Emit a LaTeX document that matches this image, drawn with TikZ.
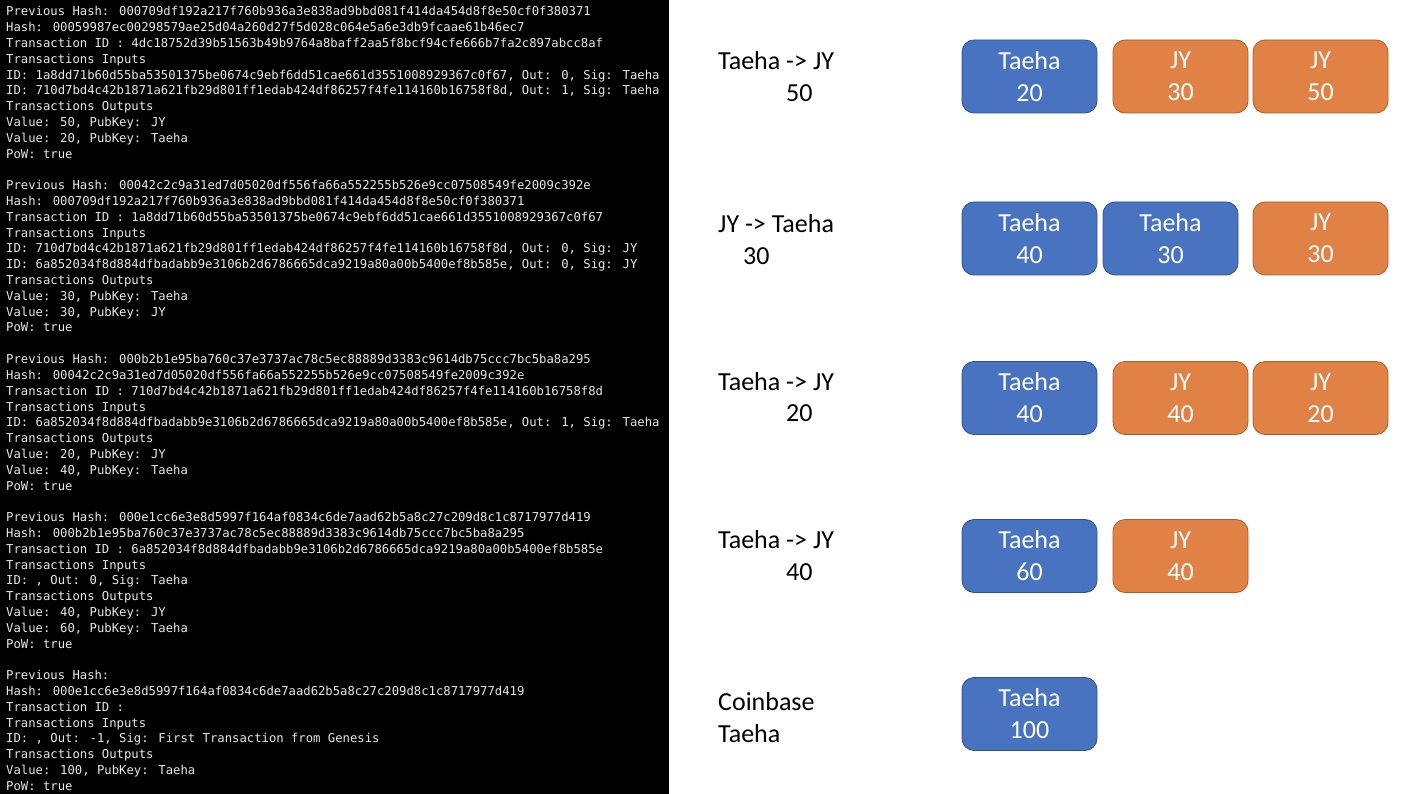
\documentclass[tikz,border=0pt]{standalone}
\usepackage{fontspec}
\setmainfont{Carlito}
\newfontfamily\termfont{DejaVu Sans Mono}
\definecolor{termtext}{RGB}{232,232,232}
\definecolor{tfill}{RGB}{72,115,192}
\definecolor{tline}{RGB}{47,82,143}
\definecolor{jfill}{RGB}{224,129,70}
\definecolor{jline}{RGB}{174,94,40}
\tikzset{
  term/.style={anchor=base west, inner sep=0pt, text=termtext, font=\termfont\fontsize{12.24}{15.8}\selectfont},
  coin/.style={draw, rounded corners=12pt, minimum width=135pt, minimum height=73pt, align=center, text=white, font=\fontsize{26}{32}\selectfont, inner sep=0pt, line width=0.8pt},
  tbox/.style={coin, draw=tline, fill=tfill},
  jbox/.style={coin, draw=jline, fill=jfill},
  lbl/.style={anchor=base west, inner sep=0pt, text=black, font=\fontsize{26}{32}\selectfont}
}
\begin{document}
\begin{tikzpicture}[x=1pt,y=-1pt]
\useasboundingbox (0,0) rectangle (1406,794);
\fill[black] (0,0) rectangle (669,794);
% block 1
\foreach \t [count=\i from 0] in {
 {Previous Hash: 000709df192a217f760b936a3e838ad9bbd081f414da454d8f8e50cf0f380371},
 {Hash: 00059987ec00298579ae25d04a260d27f5d028c064e5a6e3db9fcaae61b46ec7},
 {Transaction ID : 4dc18752d39b51563b49b9764a8baff2aa5f8bcf94cfe666b7fa2c897abcc8af},
 {Transactions Inputs},
 {ID: 1a8dd71b60d55ba53501375be0674c9ebf6dd51cae661d3551008929367c0f67, Out: 0, Sig: Taeha},
 {ID: 710d7bd4c42b1871a621fb29d801ff1edab424df86257f4fe114160b16758f8d, Out: 1, Sig: Taeha},
 {Transactions Outputs},
 {Value: 50, PubKey: JY},
 {Value: 20, PubKey: Taeha},
 {PoW: true}}
 \node[term] (a\i) at (6, 16+15.8*\i) {\t};
% block 2
\foreach \t [count=\i from 0] in {
 {Previous Hash: 00042c2c9a31ed7d05020df556fa66a552255b526e9cc07508549fe2009c392e},
 {Hash: 000709df192a217f760b936a3e838ad9bbd081f414da454d8f8e50cf0f380371},
 {Transaction ID : 1a8dd71b60d55ba53501375be0674c9ebf6dd51cae661d3551008929367c0f67},
 {Transactions Inputs},
 {ID: 710d7bd4c42b1871a621fb29d801ff1edab424df86257f4fe114160b16758f8d, Out: 0, Sig: JY},
 {ID: 6a852034f8d884dfbadabb9e3106b2d6786665dca9219a80a00b5400ef8b585e, Out: 0, Sig: JY},
 {Transactions Outputs},
 {Value: 30, PubKey: Taeha},
 {Value: 30, PubKey: JY},
 {PoW: true}}
 \node[term] (b\i) at (6, 16+15.8*11+15.8*\i) {\t};
% block 3
\foreach \t [count=\i from 0] in {
 {Previous Hash: 000b2b1e95ba760c37e3737ac78c5ec88889d3383c9614db75ccc7bc5ba8a295},
 {Hash: 00042c2c9a31ed7d05020df556fa66a552255b526e9cc07508549fe2009c392e},
 {Transaction ID : 710d7bd4c42b1871a621fb29d801ff1edab424df86257f4fe114160b16758f8d},
 {Transactions Inputs},
 {ID: 6a852034f8d884dfbadabb9e3106b2d6786665dca9219a80a00b5400ef8b585e, Out: 1, Sig: Taeha},
 {Transactions Outputs},
 {Value: 20, PubKey: JY},
 {Value: 40, PubKey: Taeha},
 {PoW: true}}
 \node[term] (c\i) at (6, 16+15.8*22+15.8*\i) {\t};
% block 4
\foreach \t [count=\i from 0] in {
 {Previous Hash: 000e1cc6e3e8d5997f164af0834c6de7aad62b5a8c27c209d8c1c8717977d419},
 {Hash: 000b2b1e95ba760c37e3737ac78c5ec88889d3383c9614db75ccc7bc5ba8a295},
 {Transaction ID : 6a852034f8d884dfbadabb9e3106b2d6786665dca9219a80a00b5400ef8b585e},
 {Transactions Inputs},
 {ID: , Out: 0, Sig: Taeha},
 {Transactions Outputs},
 {Value: 40, PubKey: JY},
 {Value: 60, PubKey: Taeha},
 {PoW: true}}
 \node[term] (d\i) at (6, 16+15.8*32+15.8*\i) {\t};
% block 5
\foreach \t [count=\i from 0] in {
 {Previous Hash:},
 {Hash: 000e1cc6e3e8d5997f164af0834c6de7aad62b5a8c27c209d8c1c8717977d419},
 {Transaction ID :},
 {Transactions Inputs},
 {ID: , Out: -1, Sig: First Transaction from Genesis},
 {Transactions Outputs},
 {Value: 100, PubKey: Taeha},
 {PoW: true}}
 \node[term] (e\i) at (6, 16+15.8*42+15.8*\i) {\t};

% right side labels
\node[lbl] (l1a) at (718, 69.5) {Taeha -> JY};
\node[lbl] (l1b) at (786, 101.5) {50};
\node[lbl] (l2a) at (718, 232.5) {JY -> Taeha};
\node[lbl] (l2b) at (743, 264.5) {30};
\node[lbl] (l3a) at (718, 390.5) {Taeha -> JY};
\node[lbl] (l3b) at (786, 421.5) {20};
\node[lbl] (l4a) at (718, 548.5) {Taeha -> JY};
\node[lbl] (l4b) at (786, 580.5) {40};
\node[lbl] (l5a) at (718, 710.5) {Coinbase};
\node[lbl] (l5b) at (718, 742.5) {Taeha};

% boxes
\node[tbox] (r1a) at (1029.5, 76.5) {Taeha\\20};
\node[jbox] (r1b) at (1180.5, 76.5) {JY\\30};
\node[jbox] (r1c) at (1320.5, 76.5) {JY\\50};
\node[tbox] (r2a) at (1029.5, 238.5) {Taeha\\40};
\node[tbox] (r2b) at (1170.5, 238.5) {Taeha\\30};
\node[jbox] (r2c) at (1320.5, 238.5) {JY\\30};
\node[tbox] (r3a) at (1029.5, 398) {Taeha\\40};
\node[jbox] (r3b) at (1180.5, 398) {JY\\40};
\node[jbox] (r3c) at (1320.5, 398) {JY\\20};
\node[tbox] (r4a) at (1029.5, 556) {Taeha\\60};
\node[jbox] (r4b) at (1180.5, 556) {JY\\40};
\node[tbox] (r5a) at (1029.5, 714) {Taeha\\100};
\end{tikzpicture}
\end{document}
